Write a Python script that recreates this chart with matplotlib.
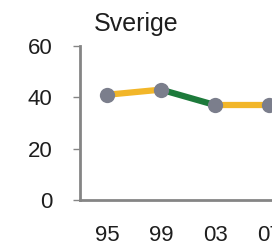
import numpy as np
import matplotlib
matplotlib.use('Agg')
import matplotlib.pyplot as plt

plt.rcParams['font.family'] = ['Liberation Sans', 'DejaVu Sans']

# data
years = ['95', '99', '03', '07']
values = [41, 43, 37, 37]
seg_colors = ['#f2b629', '#1d7a3b', '#f2b629']

DPI = 100
fig = plt.figure(figsize=(2.72, 2.46), dpi=DPI)
# axes runs past the right edge, like the cropped original
ax = fig.add_axes([80/272, 46/246, 216/272, 154/246])

x = np.arange(len(years))
for i in range(len(x) - 1):
    ax.plot(x[i:i+2], values[i:i+2], color=seg_colors[i], lw=4.5,
            solid_capstyle='butt', zorder=2)
ax.plot(x, values, 'o', color='#7b7e8c', ms=11, mec='none', zorder=3,
        clip_on=False)

ax.set_xlim(-0.5, 3.5)
ax.set_ylim(0, 60)
ax.set_yticks([0, 20, 40, 60])
ax.set_xticks(x)
ax.set_xticklabels(years)

for s in ['top', 'right']:
    ax.spines[s].set_visible(False)
for s in ['left', 'bottom']:
    ax.spines[s].set_color('#858585')
    ax.spines[s].set_linewidth(2)

ax.tick_params(axis='y', length=5, width=1, color='#858585', pad=15,
               labelsize=16, labelcolor='#1e1e1e')
ax.tick_params(axis='x', length=0, pad=18, labelsize=16, labelcolor='#1e1e1e')

fig.text(94/272, 1 - 31/246, 'Sverige', fontsize=18, color='#1e1e1e',
         va='baseline', ha='left')

plt.savefig('out.png', dpi=DPI)
